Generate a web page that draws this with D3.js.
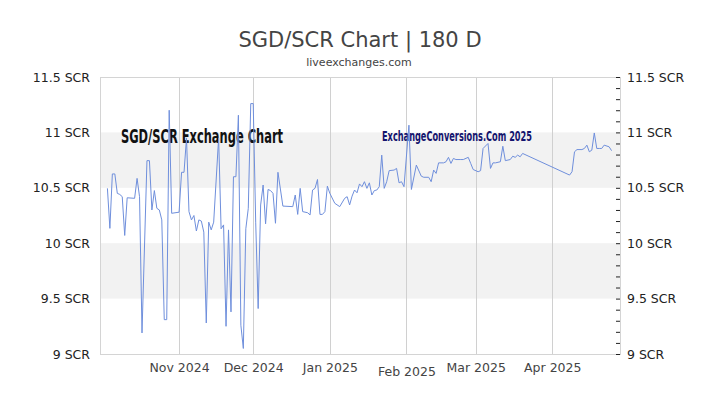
<!DOCTYPE html>
<html>
<head>
<meta charset="utf-8">
<script src="https://cdn.jsdelivr.net/npm/d3@7"></script>
<style>
  html, body { margin: 0; padding: 0; background: #fff; }
  svg { display: block; }
</style>
</head>
<body>
<svg id="chart" width="720" height="405"></svg>
<script>
const title = "SGD/SCR Chart | 180 D";
const subtitle = "liveexchanges.com";
const watermark1 = "SGD/SCR Exchange Chart";
const watermark2 = "ExchangeConversions.Com 2025";

const yTicks = [9, 9.5, 10, 10.5, 11, 11.5];
const yTickLabels = ["9 SCR", "9.5 SCR", "10 SCR", "10.5 SCR", "11 SCR", "11.5 SCR"];
const bands = [[9.5, 10], [10.5, 11]];
const xTickDates = ["2024-11-01", "2024-12-01", "2025-01-01", "2025-02-01", "2025-03-01", "2025-04-01"];
const xTickLabels = ["Nov 2024", "Dec 2024", "Jan 2025", "Feb 2025", "Mar 2025", "Apr 2025"];
const xDomain = ["2024-09-30", "2025-04-28"];

const dates = [
"2024-10-03","2024-10-04","2024-10-05","2024-10-06","2024-10-07","2024-10-08","2024-10-09","2024-10-10","2024-10-11","2024-10-14",
"2024-10-15","2024-10-16","2024-10-17","2024-10-19","2024-10-20","2024-10-21","2024-10-22","2024-10-23","2024-10-24","2024-10-25",
"2024-10-26","2024-10-27","2024-10-28","2024-10-29","2024-11-01","2024-11-02","2024-11-03","2024-11-04","2024-11-05","2024-11-06",
"2024-11-07","2024-11-08","2024-11-09","2024-11-10","2024-11-11","2024-11-12","2024-11-13","2024-11-14","2024-11-15","2024-11-17",
"2024-11-18","2024-11-19","2024-11-20","2024-11-21","2024-11-22","2024-11-23","2024-11-24","2024-11-25","2024-11-26","2024-11-27",
"2024-11-28","2024-11-29","2024-11-30","2024-12-01","2024-12-02","2024-12-03","2024-12-04","2024-12-05","2024-12-06","2024-12-07",
"2024-12-08","2024-12-09","2024-12-10","2024-12-11","2024-12-13","2024-12-17","2024-12-18","2024-12-19","2024-12-20","2024-12-21",
"2024-12-23","2024-12-24","2024-12-25","2024-12-26","2024-12-27","2024-12-28","2024-12-29","2024-12-30","2024-12-31","2025-01-01",
"2025-01-03","2025-01-05","2025-01-07","2025-01-08","2025-01-09","2025-01-10","2025-01-11","2025-01-12","2025-01-13","2025-01-14",
"2025-01-15","2025-01-16","2025-01-17","2025-01-18","2025-01-19","2025-01-20","2025-01-21","2025-01-22","2025-01-23","2025-01-24",
"2025-01-25","2025-01-27","2025-01-28","2025-01-29","2025-01-30","2025-01-31","2025-02-02","2025-02-03","2025-02-05","2025-02-07",
"2025-02-08","2025-02-10","2025-02-11","2025-02-12","2025-02-13","2025-02-14","2025-02-16","2025-02-17","2025-02-18","2025-02-19",
"2025-02-20","2025-02-21","2025-02-23","2025-02-24","2025-02-26","2025-02-27","2025-02-28","2025-03-02","2025-03-03","2025-03-04",
"2025-03-06","2025-03-07","2025-03-08","2025-03-09","2025-03-11","2025-03-12","2025-03-13","2025-03-15","2025-03-16","2025-03-17",
"2025-03-18","2025-03-19","2025-03-20","2025-04-08","2025-04-09","2025-04-10","2025-04-11","2025-04-13","2025-04-14","2025-04-15",
"2025-04-16","2025-04-17","2025-04-18","2025-04-19","2025-04-20","2025-04-21","2025-04-22","2025-04-24","2025-04-25"
];
const rates = [
10.495,10.134,10.625,10.625,10.45,10.44,10.42,10.07,10.41,10.405,
10.585,10.42,9.19,10.745,10.745,10.30,10.475,10.315,10.30,10.21,
9.31,9.31,11.2,10.27,10.28,10.64,10.64,10.95,10.285,10.21,
10.25,10.11,10.21,10.20,10.10,9.28,10.19,10.12,10.19,10.95,
10.13,10.165,9.25,10.12,9.38,10.60,10.60,11.155,9.26,9.05,
10.13,10.315,11.26,11.26,10.19,9.41,10.345,10.525,10.175,10.485,
10.475,10.45,10.18,10.64,10.335,10.33,10.435,10.26,10.495,10.285,
10.275,10.255,10.48,10.495,10.575,10.26,10.26,10.285,10.515,10.45,
10.36,10.33,10.405,10.42,10.345,10.425,10.48,10.455,10.535,10.51,
10.555,10.495,10.545,10.435,10.475,10.48,10.51,10.795,10.495,10.555,
10.655,10.66,10.675,10.545,10.555,10.51,11.065,10.485,10.705,10.605,
10.595,10.595,10.555,10.66,10.63,10.725,10.725,10.735,10.775,10.72,
10.765,10.755,10.755,10.755,10.775,10.72,10.665,10.645,10.655,10.855,
10.90,10.675,10.725,10.725,10.735,10.875,10.745,10.755,10.785,10.775,
10.795,10.78,10.81,10.615,10.645,10.825,10.845,10.845,10.855,10.885,
10.825,10.84,10.995,10.855,10.855,10.855,10.885,10.87,10.835
];

const parse = d3.utcParse("%Y-%m-%d");
const data = dates.map((d, i) => ({ date: parse(d), value: rates[i] }));

const svg = d3.select("#chart");
const L = 100, R = 620, T = 77, B = 354;

const x = d3.scaleUtc().domain(xDomain.map(parse)).range([L, R - 1]);
const y = d3.scaleLinear().domain([9, 11.5]).range([B, T]);

// Title
svg.append("text").attr("x", 360).attr("y", 47).attr("text-anchor", "middle")
  .attr("font-family", "DejaVu Sans").attr("font-size", 21).attr("fill", "#444").text(title);
svg.append("text").attr("x", 359).attr("y", 66).attr("text-anchor", "middle")
  .attr("font-family", "DejaVu Sans").attr("font-size", 11).attr("fill", "#444").text(subtitle);

// Bands
svg.append("g").selectAll("rect").data(bands).join("rect")
  .attr("x", L).attr("width", R - L)
  .attr("y", d => y(d[1])).attr("height", d => y(d[0]) - y(d[1]))
  .attr("fill", "#f2f2f2");

// Vertical gridlines
svg.append("g").selectAll("line").data(xTickDates.map(parse)).join("line")
  .attr("x1", d => Math.round(x(d)) + 0.5).attr("x2", d => Math.round(x(d)) + 0.5)
  .attr("y1", T).attr("y2", B)
  .attr("stroke", "#d0d0d0").attr("stroke-width", 1);

// Frame
svg.append("rect").attr("x", L + 0.5).attr("y", T + 0.5).attr("width", R - L).attr("height", B - T)
  .attr("fill", "none").attr("stroke", "#d4d4d4").attr("stroke-width", 1);

// Watermarks
svg.append("text").attr("x", 121).attr("y", 142.5)
  .attr("font-family", "'Liberation Sans Narrow', 'DejaVu Sans Condensed', 'DejaVu Sans', sans-serif")
  .attr("font-weight", "bold").attr("font-stretch", "condensed")
  .attr("font-size", 19).attr("fill", "#111")
  .attr("textLength", 162).attr("lengthAdjust", "spacingAndGlyphs")
  .text(watermark1);
svg.append("text").attr("x", 382).attr("y", 141)
  .attr("font-family", "'Liberation Sans Narrow', 'DejaVu Sans Condensed', 'DejaVu Sans', sans-serif")
  .attr("font-weight", "bold").attr("font-stretch", "condensed")
  .attr("font-size", 14).attr("fill", "#14146e")
  .attr("textLength", 150).attr("lengthAdjust", "spacingAndGlyphs")
  .text(watermark2);

// Line
const line = d3.line().x(d => x(d.date)).y(d => y(d.value));
svg.append("path").datum(data).attr("d", line)
  .attr("fill", "none").attr("stroke", "#6f8fdc").attr("stroke-width", 1)
  .attr("stroke-linejoin", "round");

// Left axis labels
const leftAxis = d3.axisLeft(y).tickValues(yTicks).tickSize(0).tickPadding(10)
  .tickFormat((d, i) => yTickLabels[i]);
const gl = svg.append("g").attr("transform", `translate(${L},0)`).call(leftAxis);
gl.select(".domain").remove();
gl.selectAll("text").attr("font-family", "DejaVu Sans").attr("font-size", 12.5).attr("fill", "#222");

// Right axis with minor ticks
const minorTicks = d3.range(90, 116).map(v => v / 10);
const rightMinor = d3.axisLeft(y).tickValues(minorTicks).tickSize(4).tickFormat("");
const gm = svg.append("g").attr("transform", `translate(${R},0)`).call(rightMinor);
gm.select(".domain").remove();
gm.selectAll("line").attr("stroke", "#222");

const rightAxis = d3.axisRight(y).tickValues(yTicks).tickSize(0).tickPadding(7)
  .tickFormat((d, i) => yTickLabels[i]);
const gr = svg.append("g").attr("transform", `translate(${R},0)`).call(rightAxis);
gr.select(".domain").remove();
gr.selectAll("text").attr("font-family", "DejaVu Sans").attr("font-size", 12.5).attr("fill", "#222");

// Bottom axis labels
const bottomAxis = d3.axisBottom(x).tickValues(xTickDates.map(parse)).tickSize(0).tickPadding(9)
  .tickFormat((d, i) => xTickLabels[i]);
const gb = svg.append("g").attr("transform", `translate(0,${B})`).call(bottomAxis);
gb.select(".domain").remove();
gb.selectAll("text").attr("font-family", "DejaVu Sans").attr("font-size", 12.5).attr("fill", "#444")
  .attr("dy", (d, i) => xTickLabels[i].startsWith("Feb") ? "1.0em" : "0.75em");
</script>
</body>
</html>
